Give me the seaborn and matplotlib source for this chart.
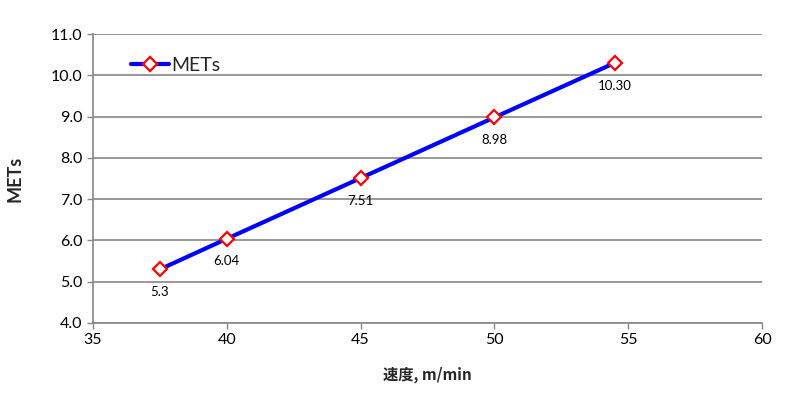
import matplotlib
matplotlib.use("Agg")
import matplotlib.pyplot as plt
import seaborn as sns
import pandas as pd

speed = [37.5, 40, 45, 50, 54.5]
mets = [5.3, 6.04, 7.51, 8.98, 10.30]
labels = ["5.3", "6.04", "7.51", "8.98", "10.30"]
x_ticks = [35, 40, 45, 50, 55, 60]
y_ticks = [4.0, 5.0, 6.0, 7.0, 8.0, 9.0, 10.0, 11.0]

sns.set_theme(style="white")
plt.rcParams['font.family'] = ['Lato', 'Noto Sans CJK JP', 'DejaVu Sans']

df = pd.DataFrame({"speed": speed, "METs": mets})

fig = plt.figure(figsize=(8, 3.95), dpi=100)
ax = fig.add_axes([93/800, 72/395, (762-93)/800, (323-34)/395])

sns.lineplot(data=df, x="speed", y="METs", ax=ax, color="#0000FF", linewidth=3,
             marker="D", markersize=7, markerfacecolor="white",
             markeredgecolor="#FF0000", markeredgewidth=1.6, label="METs")

for xv, yv, t in zip(speed, mets, labels):
    ax.annotate(t, (xv, yv), xytext=(0, -12), textcoords="offset points",
                ha="center", va="top", fontsize=9.5, color="black")

ax.set_xlim(35, 60)
ax.set_ylim(4.0, 11.0)
ax.set_xticks(x_ticks)
ax.set_yticks(y_ticks)
ax.set_yticklabels([f"{v:.1f}" for v in y_ticks])
ax.tick_params(axis="both", labelsize=11.5, colors="#000000", length=4, width=1,
               direction="out", left=True, bottom=True)
ax.tick_params(axis="both", color="#868686")
ax.grid(axis="y", color="#868686", linewidth=1.2)
ax.grid(axis="x", visible=False)
for s in ["top", "right"]:
    ax.spines[s].set_visible(False)
for s in ["left", "bottom"]:
    ax.spines[s].set_color("#868686")
    ax.spines[s].set_linewidth(1.2)

ax.set_xlabel("速度, m/min", fontsize=11, fontweight="bold",
              family=['Noto Sans CJK JP', 'DejaVu Sans'], labelpad=14)
ax.set_ylabel("METs", fontsize=13, fontweight="bold", labelpad=20)

leg = ax.legend(loc="upper left", bbox_to_anchor=(0.03, 0.98), frameon=False,
                fontsize=14, handlelength=2.0, handletextpad=0.1)

fig.savefig("out.png", dpi=100)
